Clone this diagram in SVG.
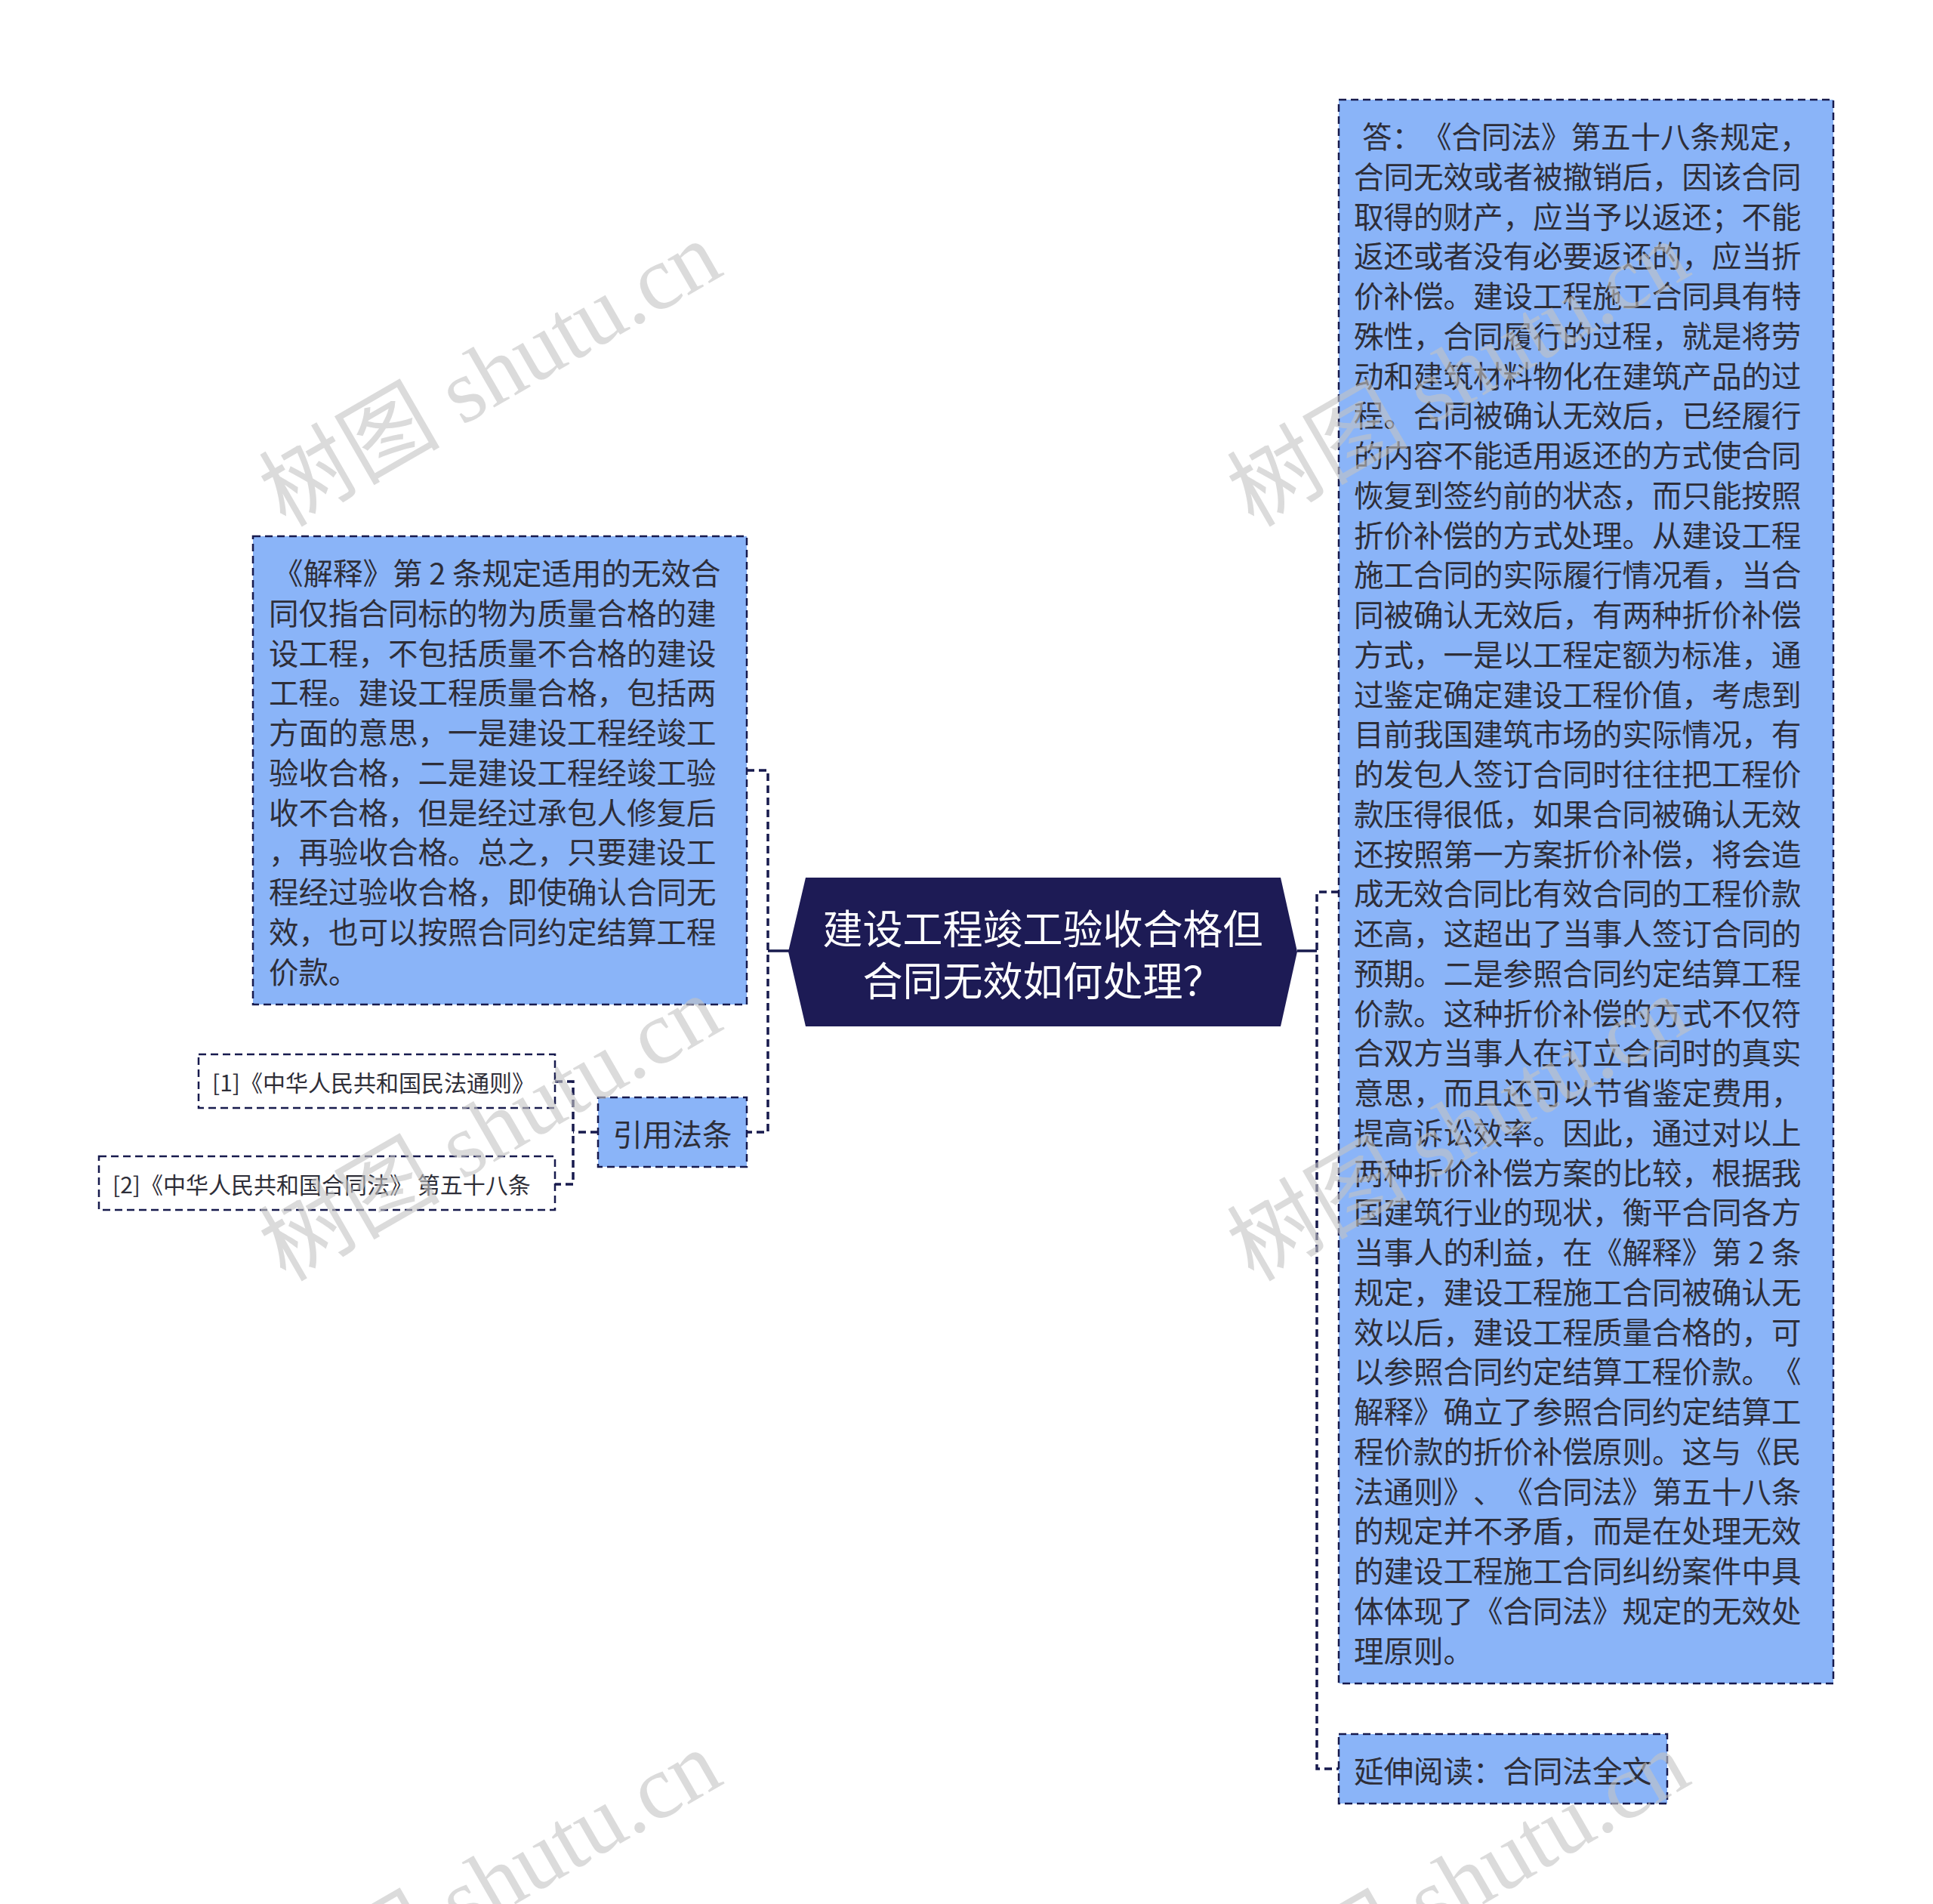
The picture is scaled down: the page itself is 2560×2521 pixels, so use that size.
<svg xmlns="http://www.w3.org/2000/svg" width="2560" height="2521" viewBox="0 0 2560 2521">
<style>
text{text-spacing-trim:space-all}
.box{fill:#8ab4f8;stroke:#171a4d;stroke-width:2.5;stroke-dasharray:10 6}
.wbox{fill:#ffffff;stroke:#171a4d;stroke-width:2.5;stroke-dasharray:10 6}
.t{font-family:"Noto Sans CJK SC","Noto Sans",sans-serif;font-size:39.5px;fill:#2e2e38;dominant-baseline:central}
.ts{font-family:"Noto Sans CJK SC","Noto Sans",sans-serif;font-size:30px;fill:#2e2e38;dominant-baseline:central}
.ct{font-family:"Noto Sans CJK SC","Noto Sans",sans-serif;font-size:53px;fill:#ffffff;dominant-baseline:central;text-anchor:middle}
.dash{fill:none;stroke:#171a4d;stroke-width:3.5;stroke-dasharray:10 6}
.solid{fill:none;stroke:#171a4d;stroke-width:3.5}
.wm{font-family:"Liberation Serif","Noto Sans CJK SC",serif;font-size:120px;fill:#c4c4c4;opacity:0.6}
</style>
<rect width="2560" height="2521" fill="#ffffff"/>
<g id="connectors">
<path class="dash" d="M989,1020 H1017 V1499 H989"/>
<path class="solid" d="M1045,1259 H1017"/>
<path class="dash" d="M1773,1181 H1744 V2342 H1773"/>
<path class="solid" d="M1718,1259 H1744"/>
<path class="dash" d="M735,1432 H759 V1568 H735"/>
<path class="dash" d="M792,1499 H759"/>
</g>
<g id="center">
<polygon points="1044,1260 1067,1162 1696,1162 1718,1260 1696,1359 1067,1359" fill="#1d1b55"/>
<text class="ct" x="1381" y="1227">建设工程竣工验收合格但</text>
<text class="ct" x="1381" y="1296">合同无效如何处理？</text>
</g>
<g id="node-explain">
<rect class="box" x="335" y="710" width="654" height="620"/>
<text class="t">
<tspan x="362" y="756">《解释》第 2 条规定适用的无效合</tspan>
<tspan x="356" y="808.75">同仅指合同标的物为质量合格的建</tspan>
<tspan x="356" y="861.5">设工程，不包括质量不合格的建设</tspan>
<tspan x="356" y="914.25">工程。建设工程质量合格，包括两</tspan>
<tspan x="356" y="967">方面的意思，一是建设工程经竣工</tspan>
<tspan x="356" y="1019.75">验收合格，二是建设工程经竣工验</tspan>
<tspan x="356" y="1072.5">收不合格，但是经过承包人修复后</tspan>
<tspan x="356" y="1125.25">，再验收合格。总之，只要建设工</tspan>
<tspan x="356" y="1178">程经过验收合格，即使确认合同无</tspan>
<tspan x="356" y="1230.75">效，也可以按照合同约定结算工程</tspan>
<tspan x="356" y="1283.5">价款。</tspan>
</text>
</g>
<g id="node-cite">
<rect class="box" x="792" y="1453" width="197" height="92"/>
<text class="t" x="890.5" y="1499" text-anchor="middle">引用法条</text>
</g>
<g id="node-cite1">
<rect class="wbox" x="263" y="1396" width="472" height="71"/>
<text class="ts" x="281" y="1432">[1]《中华人民共和国民法通则》</text>
</g>
<g id="node-cite2">
<rect class="wbox" x="131" y="1531" width="604" height="71"/>
<text class="ts" x="149" y="1567">[2]《中华人民共和国合同法》 第五十八条</text>
</g>
<g id="node-answer">
<rect class="box" x="1773" y="132" width="655" height="2097"/>
<text class="t">
<tspan x="1804" y="178">答：《合同法》第五十八条规定，</tspan>
<tspan x="1793" y="230.75">合同无效或者被撤销后，因该合同</tspan>
<tspan x="1793" y="283.5">取得的财产，应当予以返还；不能</tspan>
<tspan x="1793" y="336.25">返还或者没有必要返还的，应当折</tspan>
<tspan x="1793" y="389">价补偿。建设工程施工合同具有特</tspan>
<tspan x="1793" y="441.75">殊性，合同履行的过程，就是将劳</tspan>
<tspan x="1793" y="494.5">动和建筑材料物化在建筑产品的过</tspan>
<tspan x="1793" y="547.25">程。合同被确认无效后，已经履行</tspan>
<tspan x="1793" y="600">的内容不能适用返还的方式使合同</tspan>
<tspan x="1793" y="652.75">恢复到签约前的状态，而只能按照</tspan>
<tspan x="1793" y="705.5">折价补偿的方式处理。从建设工程</tspan>
<tspan x="1793" y="758.25">施工合同的实际履行情况看，当合</tspan>
<tspan x="1793" y="811">同被确认无效后，有两种折价补偿</tspan>
<tspan x="1793" y="863.75">方式，一是以工程定额为标准，通</tspan>
<tspan x="1793" y="916.5">过鉴定确定建设工程价值，考虑到</tspan>
<tspan x="1793" y="969.25">目前我国建筑市场的实际情况，有</tspan>
<tspan x="1793" y="1022">的发包人签订合同时往往把工程价</tspan>
<tspan x="1793" y="1074.75">款压得很低，如果合同被确认无效</tspan>
<tspan x="1793" y="1127.5">还按照第一方案折价补偿，将会造</tspan>
<tspan x="1793" y="1180.25">成无效合同比有效合同的工程价款</tspan>
<tspan x="1793" y="1233">还高，这超出了当事人签订合同的</tspan>
<tspan x="1793" y="1285.75">预期。二是参照合同约定结算工程</tspan>
<tspan x="1793" y="1338.5">价款。这种折价补偿的方式不仅符</tspan>
<tspan x="1793" y="1391.25">合双方当事人在订立合同时的真实</tspan>
<tspan x="1793" y="1444">意思，而且还可以节省鉴定费用，</tspan>
<tspan x="1793" y="1496.75">提高诉讼效率。因此，通过对以上</tspan>
<tspan x="1793" y="1549.5">两种折价补偿方案的比较，根据我</tspan>
<tspan x="1793" y="1602.25">国建筑行业的现状，衡平合同各方</tspan>
<tspan x="1793" y="1655">当事人的利益，在《解释》第 2 条</tspan>
<tspan x="1793" y="1707.75">规定，建设工程施工合同被确认无</tspan>
<tspan x="1793" y="1760.5">效以后，建设工程质量合格的，可</tspan>
<tspan x="1793" y="1813.25">以参照合同约定结算工程价款。《</tspan>
<tspan x="1793" y="1866">解释》确立了参照合同约定结算工</tspan>
<tspan x="1793" y="1918.75">程价款的折价补偿原则。这与《民</tspan>
<tspan x="1793" y="1971.5">法通则》、《合同法》第五十八条</tspan>
<tspan x="1793" y="2024.25">的规定并不矛盾，而是在处理无效</tspan>
<tspan x="1793" y="2077">的建设工程施工合同纠纷案件中具</tspan>
<tspan x="1793" y="2129.75">体体现了《合同法》规定的无效处</tspan>
<tspan x="1793" y="2182.5">理原则。</tspan>
</text>
</g>
<g id="node-more">
<rect class="box" x="1773" y="2296" width="435" height="92"/>
<text class="t" x="1793" y="2342">延伸阅读：合同法全文</text>
</g>
<g id="watermarks">
<text class="wm" transform="translate(378,699) rotate(-30)">树图 shutu.cn</text>
<text class="wm" transform="translate(1660,699) rotate(-30)">树图 shutu.cn</text>
<text class="wm" transform="translate(378,1698) rotate(-30)">树图 shutu.cn</text>
<text class="wm" transform="translate(1660,1698) rotate(-30)">树图 shutu.cn</text>
<text class="wm" transform="translate(378,2697) rotate(-30)">树图 shutu.cn</text>
<text class="wm" transform="translate(1660,2697) rotate(-30)">树图 shutu.cn</text>
</g>
</svg>
